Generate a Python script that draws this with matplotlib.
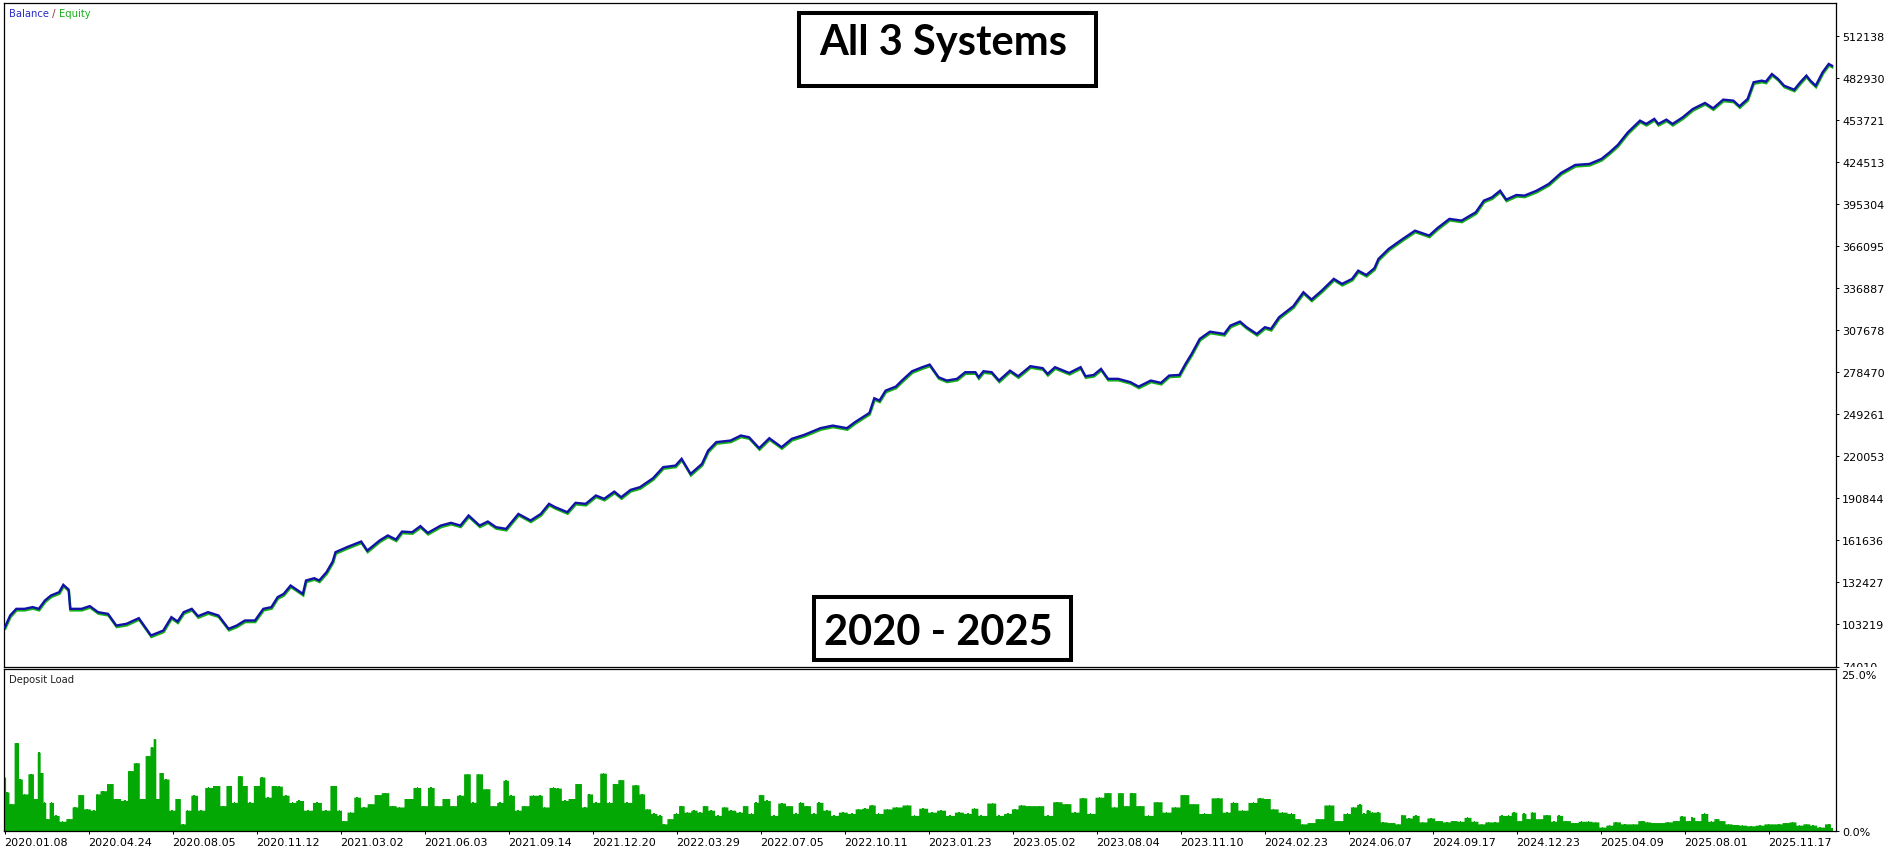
import matplotlib
matplotlib.use('Agg')
import matplotlib.pyplot as plt
from matplotlib.patches import Rectangle
from matplotlib.transforms import ScaledTranslation, Bbox, TransformedBbox

W, H, DPI = 1892, 853, 100

# ---------------- data ----------------
# horizontal position = bar index of the tester chart (1 unit = 1 chart column)
bal_x = [4.9, 10.2, 16.3, 24.5, 32.7, 38.8, 44.9, 51, 59.2, 63.3, 68.6, 70.2, 81.6, 89.8, 98, 108,
         116.3, 126.5, 138.8, 151, 163.3, 171.4, 177.6, 183.7, 191.8, 198, 208, 218.4, 228.6, 236.7,
         244.9, 255, 263.3, 271.4, 277.6, 283.7, 290.6, 298, 302.9, 306, 314.3, 319.2, 326.5, 332.7,
         335.5, 347, 361.2, 367.3, 379.6, 387.8, 396, 402, 412.2, 420.4, 427.8, 440.8, 451, 460.4,
         468.6, 479.6, 487.8, 495.9, 506.1, 518.4, 530.6, 540.8, 549, 555.1, 567.3, 575.5, 585.7,
         595.9, 604.1, 614.3, 621.2, 630.6, 640,
         653, 663.2, 675.5, 681.6, 690.6, 702, 708.1, 716.3, 730.6, 740.8, 749, 759.2, 769.3, 781.6,
         791.8, 804, 820.4, 832.7, 846.9, 855, 869.4, 874.3, 879.5, 885.6, 895.8, 901.9, 912.1, 922.3,
         929.7, 938.6, 946.8, 957, 965.2, 975.4, 978.6, 983.5, 991.7, 999, 1010, 1018.2, 1030.4,
         1042.7, 1047.6, 1055, 1069.2, 1080.6, 1085.5, 1093.7, 1101, 1108, 1118.2, 1130.4, 1138.6,
         1150.8, 1161, 1169.2, 1179.4, 1185.5, 1191.6, 1199.8, 1210, 1224.2, 1230.4, 1240,
         1246.6, 1256.8, 1264.9, 1271, 1279, 1293.3, 1303.4, 1311.5, 1321.7, 1333.8, 1342, 1352.1,
         1358.2, 1366.3, 1374.4, 1378.5, 1388.6, 1402.8, 1415, 1429.2, 1437.3, 1449.4, 1461.6, 1475.8,
         1483.9, 1492, 1500.1, 1506.2, 1516.4, 1524.5, 1536.6, 1548.8, 1561, 1575.2, 1589.4, 1601.5,
         1609.7, 1617.8, 1627.9, 1640, 1646.2, 1654.3, 1658.3, 1666.4, 1672.5, 1682.7, 1692.8, 1705,
         1713.1, 1723.2, 1733.4, 1739.5, 1747.6, 1753.6, 1761.7, 1765.8, 1771.9, 1778, 1784.1, 1794.2,
         1800.3, 1806.4, 1810.4, 1815.7, 1822.6, 1828.7, 1832]
balance = [101400, 109500, 114100, 114100, 115300, 114100, 119900, 123400, 125700, 130800, 127500,
           114100, 114100, 116000, 111800, 110600, 102500, 103700, 107600, 95600, 99000, 108300,
           105300, 111800, 114100, 109000, 111800, 109500, 100200, 102500, 106000, 106000, 114100,
           115300, 122200, 124500, 130300, 126800, 124500, 133800, 135400, 133800, 139600, 147000,
           153500, 157000, 160900, 154600, 161600, 165100, 162300, 167800, 167400, 171600, 166900,
           172000, 173900, 172000, 179000, 172000, 174800, 170900, 169700, 180100, 175500, 180100,
           187100, 184800, 181300, 187800, 187100, 192900, 190600, 195600, 191700, 196800, 198700,
           204900, 212600, 213700, 218400, 207900, 214900, 224100, 230000, 231100, 234600, 233400,
           225800, 232700, 226500, 232300, 235000, 239700, 241500, 239700, 243900, 250300, 260500,
           258900, 265800, 268600, 272800, 279300, 282100, 283900, 275100, 272800, 274000, 278600,
           278600, 275100, 279300, 278600, 272800, 279700, 275800, 282800, 281400, 277400, 282100,
           278100, 282100, 275800, 276700, 280900, 274000, 274000, 271700, 268600, 272800, 271200,
           276300, 276700, 284400, 291300, 301800, 306800, 305200, 311000, 313800,
           309900, 305200, 309900, 308700, 316800, 324500, 334200, 329100, 335300, 343500, 340000,
           343500, 349200, 346200, 350900, 357400, 364300, 371300, 377000, 373600, 378700, 385200,
           384000, 389800, 397900, 400200, 404800, 398600, 401800, 401400, 404800, 409500, 417100,
           422700, 423400, 426900, 431500, 436600, 445400, 453500, 451200, 454700, 451200, 454200,
           451200, 455800, 461600, 465800, 462100, 468100, 467400, 463500, 468600, 480200, 481300,
           480600, 485900, 482500, 477800, 475000, 480200, 484800, 481300, 477800, 487100, 492900,
           491700]

load_x = [4.5, 6.7, 11.2, 17.0, 20.1, 24.6, 31.2, 35.7, 38.8, 41.5, 44.6, 46.9, 51.3, 55.8, 62.5,
          69.2, 75.0, 80.4, 87.0, 93.7, 97.3, 102.7, 110.3, 116.1, 125.0, 129.9, 136.6, 142.0, 148.2,
          151.8, 154.5, 157.1, 160.7, 166.1, 171.9, 177.7, 183.0, 187.5, 194.2, 200.9, 208.5, 216.5,
          223.2, 228.6, 234.4, 240.2, 244.6, 250.0, 256.7, 262.0, 267.8, 274.5, 279.0, 285.7, 292.4,
          299.1, 308.0, 316.9, 325.9, 333.9, 339.3, 343.7, 350.4, 357.1, 363.8, 370.5, 377.7, 384.8,
          392.8, 399.5, 408.5, 417.4, 424.1, 430.8, 437.5, 446.4, 453.1, 459.8, 467.4, 473.2, 478.5,
          486.6, 493.3, 500.0, 505.8, 511.1, 517.8, 524.5, 533.4, 540.1, 544.6, 553.5, 558.0, 564.7,
          571.4, 578.1, 584.8, 589.2, 595.9, 603.5, 609.3, 615.1, 620.5, 627.2, 636.1, 641.9, 647.3,
          654.0, 659.8, 664.2, 669.6, 676.3, 680.8, 687.5, 694.2, 700.0,
          704.5, 711.2, 717.9, 724.6, 731.2, 740.2, 744.6, 751.3, 755.8, 760.7, 767.0, 773.7, 781.7,
          789.3, 796.0, 800.4, 807.1, 813.8, 818.7, 827.2, 833.9, 842.8, 851.8, 858.5, 865.2, 871.9,
          878.6, 887.5, 896.4, 907.6, 914.3, 923.2, 932.1, 941.1, 950.0, 958.9, 967.8, 974.5, 981.2,
          992.4, 999.1, 1008.0, 1014.7, 1021.4, 1029.4, 1039.3, 1048.2, 1057.1, 1066.9, 1075.0,
          1083.0, 1090.6, 1099.5, 1108.0, 1114.3, 1120.5, 1126.3, 1132.1, 1139.7, 1148.6, 1157.6,
          1166.5, 1175.4, 1184.4, 1193.3, 1204.4, 1217.8, 1226.8, 1233.4, 1242.4, 1253.5, 1260.2,
          1266.9, 1273.6, 1282.6, 1291.5, 1298.2, 1302.6, 1311.6, 1318.3, 1329.4, 1338.4, 1347.3,
          1353.5, 1359.7, 1363.8, 1368.0, 1372.5, 1377.7, 1382.8, 1391.5, 1398.4, 1402.5, 1408.8,
          1415.7, 1422.6, 1431.2, 1438.2, 1446.8, 1453.7, 1460.6, 1467.5, 1474.5, 1481.4, 1488.3,
          1495.2, 1502.1, 1508.3, 1514.2, 1519.4, 1523.9, 1528.0, 1532.5, 1538.4, 1547.0, 1554.0,
          1559.1, 1566.1, 1574.7, 1581.6, 1588.5, 1595.4, 1602.4, 1609.3, 1616.2, 1624.8, 1633.5,
          1642.1, 1647.3, 1654.2, 1661.1, 1668.0, 1676.7, 1681.9, 1688.8, 1692.2, 1697.4, 1704.3,
          1711.3, 1716.4, 1721.6, 1728.5, 1735.5, 1742.4, 1751.0, 1759.7, 1768.3, 1778.7, 1785.6,
          1792.5, 1799.4, 1806.3, 1813.2, 1820.2, 1828.8, 1832.2]
deposit_load = [8.3, 6.0, 4.2, 13.6, 8.0, 5.7, 8.8, 5.0, 12.1, 9.0, 4.4, 1.9, 4.4, 2.4, 1.5, 1.9, 3.7,
                5.6, 3.4, 3.2, 5.7, 6.2, 7.3, 5.0, 4.7, 9.3, 10.5, 5.0, 11.6, 12.9, 14.2, 5.0, 9.0,
                8.0, 3.2, 5.0, 1.1, 3.2, 5.5, 3.2, 6.7, 7.0, 3.9, 7.0, 4.4, 8.5, 7.0, 4.4, 7.0, 8.3,
                5.2, 7.0, 6.9, 5.5, 4.4, 4.7, 3.2, 4.4, 3.2, 7.0, 3.2, 1.6, 2.9, 5.2, 3.7, 4.2, 5.6,
                5.9, 3.9, 3.7, 5.0, 6.7, 3.9, 6.7, 3.9, 5.0, 3.9, 5.5, 8.8, 4.4, 8.8, 6.5, 3.9, 4.4,
                7.8, 5.5, 3.2, 3.9, 5.5, 5.5, 3.7, 6.7, 6.6, 4.7, 5.0, 7.3, 3.7, 5.7, 4.4, 8.9, 4.4,
                7.3, 7.9, 4.4, 7.1, 5.7, 3.4, 2.7, 2.4, 1.1, 1.9, 2.7, 3.9, 2.9, 3.2, 2.9,
                3.9, 3.2, 2.4, 3.7, 3.2, 2.9, 3.9, 2.7, 4.4, 5.6, 4.7, 2.4, 4.3, 3.9, 2.7, 4.4, 3.9,
                2.7, 4.4, 3.2, 2.4, 2.9, 2.7, 3.4, 3.5, 4.0, 2.7, 3.4, 3.7, 4.0, 2.4, 3.5, 2.9, 3.2,
                2.4, 2.9, 2.7, 3.5, 2.4, 4.3, 2.4, 2.7, 3.4, 4.0, 3.9, 3.9, 2.4, 4.5, 4.2, 2.9, 5.1,
                2.7, 5.2, 5.9, 3.7, 5.9, 3.9, 5.9, 3.9, 2.4, 4.5, 2.9, 3.7, 5.6, 4.2, 2.7, 5.1, 2.9,
                4.4, 3.2, 4.4, 5.1, 5.0, 3.4, 2.9, 2.7, 1.9, 1.1, 1.3, 1.9, 4.0, 1.6, 2.7,
                3.7, 4.1, 2.7, 3.2, 2.9, 2.9, 1.4, 1.3, 1.1, 2.5, 2.0, 2.4, 1.4, 2.0, 1.6, 1.4, 1.6,
                1.5, 2.1, 1.5, 1.1, 1.4, 1.4, 2.4, 2.4, 2.9, 1.6, 2.7, 1.9, 2.9, 1.9, 2.5, 1.5, 2.4,
                1.6, 1.3, 1.5, 1.5, 1.4, 0.6, 0.9, 1.4, 1.1, 1.1, 1.6, 1.4, 1.3, 1.3, 1.4, 1.6, 2.3,
                1.6, 2.1, 1.6, 2.7, 1.5, 1.9, 1.6, 1.1, 1.0, 0.9, 0.8, 0.9, 1.1, 1.1, 1.3, 1.4, 0.9,
                1.1, 0.9, 0.6, 1.1, 0.4]

date_labels = ["2020.01.08", "2020.04.24", "2020.08.05", "2020.11.12", "2021.03.02", "2021.06.03",
               "2021.09.14", "2021.12.20", "2022.03.29", "2022.07.05", "2022.10.11", "2023.01.23",
               "2023.05.02", "2023.08.04", "2023.11.10", "2024.02.23", "2024.06.07", "2024.09.17",
               "2024.12.23", "2025.04.09", "2025.08.01", "2025.11.17"]
price_labels = ["74010", "103219", "132427", "161636", "190844", "220053", "249261", "278470",
                "307678", "336887", "366095", "395304", "424513", "453721", "482930", "512138"]
title_text = "All 3 Systems"
period_text = "2020 - 2025"

# ---------------- styling ----------------
BLUE = '#1212a8'
GREEN_LINE = '#19b019'
GREEN_BAR = '#04a804'
TICK_FS = 8
plt.rcParams['font.family'] = ['DejaVu Sans']

fig = plt.figure(figsize=(W / DPI, H / DPI), dpi=DPI)
fig.patch.set_facecolor('white')


def fig_box(x0, y0, x1, y1):
    """pixel box (top-left origin) -> figure fraction [l, b, w, h]"""
    return [x0 / W, 1 - y1 / H, (x1 - x0) / W, (y1 - y0) / H]


ax1 = fig.add_axes(fig_box(4, 4, 1836, 667.5))
ax2 = fig.add_axes(fig_box(4, 669.5, 1836, 832))

for ax in (ax1, ax2):
    for sp in ax.spines.values():
        sp.set_linewidth(0.9)
        sp.set_color('black')
    ax.set_xlim(4, 1836)
    ax.yaxis.tick_right()
    ax.tick_params(axis='y', which='both', direction='out', length=2.5, width=0.7,
                   pad=2, labelsize=TICK_FS, colors='black')

# ---- balance / equity ----
ax1.set_ylim(74010, 535280)
ax1.set_yticks([int(s) for s in price_labels])
ax1.set_yticklabels(price_labels)
ax1.set_xticks([])
shift = ScaledTranslation(0.4 / DPI, -1.6 / DPI, fig.dpi_scale_trans)
ax1.plot(bal_x, balance, color=GREEN_LINE, lw=1.7, transform=ax1.transData + shift,
         solid_joinstyle='miter', zorder=2)
ax1.plot(bal_x, balance, color=BLUE, lw=1.7, solid_joinstyle='miter', zorder=3)

# the bottom price label is cut by the lower panel, as in the terminal
clip = TransformedBbox(Bbox([[1836 / W, 1 - 667.5 / H], [1.0, 1.0]]), fig.transFigure)
for tick in ax1.yaxis.get_major_ticks():
    for lbl in (tick.label1, tick.label2):
        lbl.set_clip_box(clip)
        lbl.set_clip_on(True)

t1 = ax1.text(5 / 1832, 1 - 10 / 663.5, "Balance", transform=ax1.transAxes, color='#2a2ac8',
              fontsize=7.2, va='center', ha='left')
t2 = ax1.annotate(" / ", xy=(1, 0), xycoords=t1, va='bottom', ha='left', color='#8a3030',
                  fontsize=7.2)
ax1.annotate("Equity", xy=(1, 0), xycoords=t2, va='bottom', ha='left', color='#18b018',
             fontsize=7.2)

# ---- deposit load ----
ax2.set_ylim(0, 25)
ax2.fill_between(load_x, deposit_load, 0, step='mid', color=GREEN_BAR, lw=0)
ax2.bar(load_x, deposit_load, width=1.6, color=GREEN_BAR, lw=0)
ax2.set_yticks([0])
ax2.set_yticklabels(["0.0%"])
ax2.text(1 + 5 / 1832, 1 - 1.5 / 162.5, "25.0%", transform=ax2.transAxes, ha='left', va='top',
         fontsize=TICK_FS, color='black')
ax2.text(5 / 1832, 1 - 11 / 162.5, "Deposit Load", transform=ax2.transAxes, ha='left',
         va='center', fontsize=7.2, color='#202020')

date_pos = [4.5 + 84 * i for i in range(len(date_labels))]
ax2.set_xticks(date_pos)
ax2.set_xticklabels(date_labels)
ax2.tick_params(axis='x', direction='out', length=2.5, width=0.7, pad=1.5,
                labelsize=TICK_FS, colors='black')
for lbl in ax2.get_xticklabels():
    lbl.set_horizontalalignment('left')

# ---- framed captions ----
def caption(text, box, baseline_y, center_x):
    x0, y0, x1, y1 = box
    fig.add_artist(Rectangle((x0 / W, 1 - y1 / H), (x1 - x0) / W, (y1 - y0) / H,
                             transform=fig.transFigure, facecolor='white', edgecolor='black',
                             linewidth=2.9, zorder=10))
    fig.text(center_x / W, 1 - baseline_y / H, text, ha='center', va='baseline',
             family=['Lato', 'DejaVu Sans'], fontweight='bold', fontsize=30, color='black',
             zorder=11)


caption(title_text, (799, 14, 1096, 87), 55, 943)
caption(period_text, (814, 598, 1071, 661), 645, 938.5)

fig.savefig('out.png', dpi=DPI, facecolor='white')
